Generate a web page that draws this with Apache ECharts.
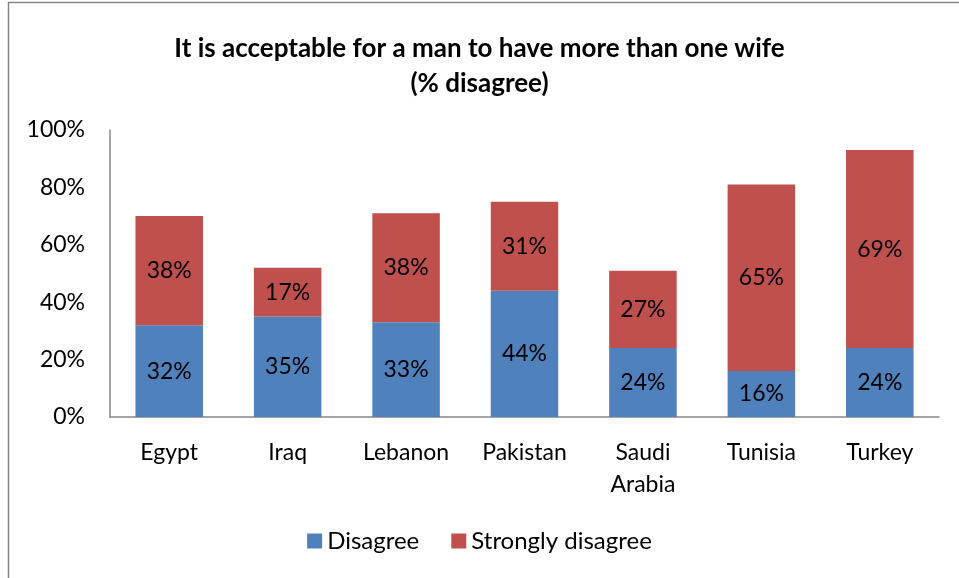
<!DOCTYPE html>
<html>
<head>
<meta charset="utf-8">
<script src="https://cdn.jsdelivr.net/npm/echarts@6/dist/echarts.min.js"></script>
<style>
html,body{margin:0;padding:0;background:#fff;}
#c{width:959px;height:578px;}
</style>
</head>
<body>
<div id="c"></div>
<script>
const categories = ['Egypt', 'Iraq', 'Lebanon', 'Pakistan', 'Saudi\nArabia', 'Tunisia', 'Turkey'];
const disagree = [32, 35, 33, 44, 24, 16, 24];
const stronglyDisagree = [38, 17, 38, 31, 27, 65, 69];
const yTicks = [0, 20, 40, 60, 80, 100];

const FONT = 'Lato, "Liberation Sans", Arial, sans-serif';
const chart = echarts.init(document.getElementById('c'), null, {renderer: 'canvas'});
chart.setOption({
  animation: false,
  backgroundColor: '#fff',
  textStyle: {fontFamily: FONT},
  title: {
    text: 'It is acceptable for a man to have more than one wife\n(% disagree)',
    left: 'center',
    top: 26,
    textStyle: {fontFamily: FONT, fontWeight: 'bold', fontSize: 26, lineHeight: 35, color: '#000'}
  },
  graphic: [{
    type: 'rect', silent: true,
    shape: {x: 8.5, y: 2.5, width: 1200, height: 1200},
    style: {fill: 'none', stroke: '#868686', lineWidth: 1.5}
  }],
  legend: {
    bottom: 20,
    left: 'center',
    itemWidth: 15, itemHeight: 15, itemGap: 32,
    icon: 'rect',
    textStyle: {fontFamily: FONT, fontSize: 24, color: '#000'},
    data: ['Disagree', 'Strongly disagree']
  },
  grid: {left: 110, right: 20, top: 130, bottom: 161, containLabel: false},
  xAxis: {
    type: 'category',
    data: categories,
    axisLine: {lineStyle: {color: '#868686', width: 1.5}},
    axisTick: {show: false},
    axisLabel: {color: '#000', fontSize: 23, fontFamily: FONT, margin: 20, lineHeight: 32, interval: 0}
  },
  yAxis: {
    type: 'value',
    min: yTicks[0], max: yTicks[yTicks.length - 1], interval: 20,
    axisLine: {show: true, lineStyle: {color: '#868686', width: 1.5}},
    axisTick: {show: false},
    splitLine: {show: false},
    axisLabel: {color: '#000', fontSize: 23, fontFamily: FONT, margin: 25, formatter: '{value}%'}
  },
  series: [{
    name: 'Disagree', type: 'bar', stack: 'a', data: disagree, barWidth: '57%',
    itemStyle: {color: '#4F81BD'},
    label: {show: true, position: 'inside', color: '#000', fontSize: 23, fontFamily: FONT, formatter: '{c}%'}
  }, {
    name: 'Strongly disagree', type: 'bar', stack: 'a', data: stronglyDisagree, barWidth: '57%',
    itemStyle: {color: '#C0504D'},
    label: {show: true, position: 'inside', color: '#000', fontSize: 23, fontFamily: FONT, formatter: '{c}%'}
  }]
});
</script>
</body>
</html>
